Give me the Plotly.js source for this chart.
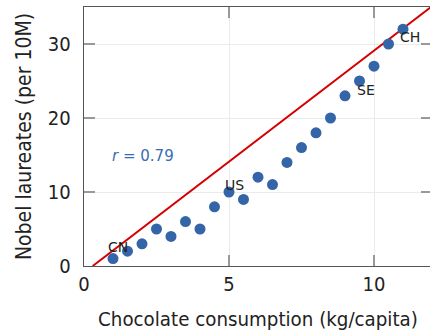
<!DOCTYPE html>
<html>
<head>
<meta charset="utf-8">
<script src="https://cdn.plot.ly/plotly-3.0.1.min.js"></script>
<style>
html, body { margin: 0; padding: 0; overflow: hidden; background: #fff; }
#chart { width: 432px; height: 331px; }
</style>
</head>
<body>
<div id="chart"></div>
<script>
// Chocolate consumption (kg/capita)
const chocolate = [1, 1.5, 2, 2.5, 3, 3.5, 4, 4.5, 5, 5.5, 6, 6.5, 7, 7.5, 8, 8.5, 9, 9.5, 10, 10.5, 11];
// Nobel laureates (per 10M)
const laureates = [1, 2, 3, 5, 4, 6, 5, 8, 10, 9, 12, 11, 14, 16, 18, 20, 23, 25, 27, 30, 32];
// Fit line endpoints
const fitX = [0.3, 12];
const fitY = [0, 35.1];
// Country labels
const countryLabels = ['CN', 'US', 'SE', 'CH'];
const labelX = [1.17, 5.2, 9.72, 11.24];
const labelY = [2.6, 10.95, 23.85, 30.9];
const corrText = '<i>r</i> = 0.79';
const xTicks = [0, 5, 10];
const yTicks = [0, 10, 20, 30];

const font = 'DejaVu Sans, sans-serif';
const axFont = '"DejaVu Sans Condensed", "DejaVu Sans", sans-serif';

const traces = [
  {
    x: fitX, y: fitY, type: 'scatter', mode: 'lines',
    line: { color: '#d40000', width: 2 }, hoverinfo: 'skip', cliponaxis: true
  },
  {
    x: chocolate, y: laureates, type: 'scatter', mode: 'markers',
    marker: { color: '#3465a8', size: 11 }, cliponaxis: false
  }
];

const annotations = countryLabels.map((t, i) => ({
  x: labelX[i], y: labelY[i], xref: 'x', yref: 'y', text: t, showarrow: false,
  xanchor: 'center', yanchor: 'middle', font: { family: font, size: 14, color: '#222' }
}));
annotations.push({
  x: 2.02, y: 14.86, xref: 'x', yref: 'y', text: corrText, showarrow: false,
  xanchor: 'center', yanchor: 'middle', font: { family: font, size: 15, color: '#3a6db0' }
});

const axisCommon = {
  showgrid: true, gridcolor: '#ebebeb', gridwidth: 1,
  showline: true, linecolor: '#555', linewidth: 1.3, mirror: 'ticks',
  ticks: 'inside', ticklen: 11, tickwidth: 1.5, tickcolor: '#999',
  zeroline: false, tickfont: { family: axFont, size: 20, color: '#222' }
};

const layout = {
  width: 432, height: 331,
  margin: { l: 84, r: 0, t: 7, b: 65 },
  paper_bgcolor: '#fff', plot_bgcolor: '#fff',
  showlegend: false,
  xaxis: Object.assign({}, axisCommon, {
    range: [0, 12], tickvals: xTicks, ticktext: xTicks.map(String),
    title: { text: 'Chocolate consumption (kg/capita)', font: { family: axFont, size: 20.3, color: '#222' }, standoff: 20 }
  }),
  yaxis: Object.assign({}, axisCommon, {
    range: [0, 35], tickvals: yTicks, ticktext: yTicks.map(String), ticklabelstandoff: 8,
    title: { text: 'Nobel laureates (per 10M)', font: { family: axFont, size: 21, color: '#222' }, standoff: 10 }
  }),
  annotations: annotations
};

Plotly.newPlot('chart', traces, layout, { displayModeBar: false, staticPlot: true });
</script>
</body>
</html>
